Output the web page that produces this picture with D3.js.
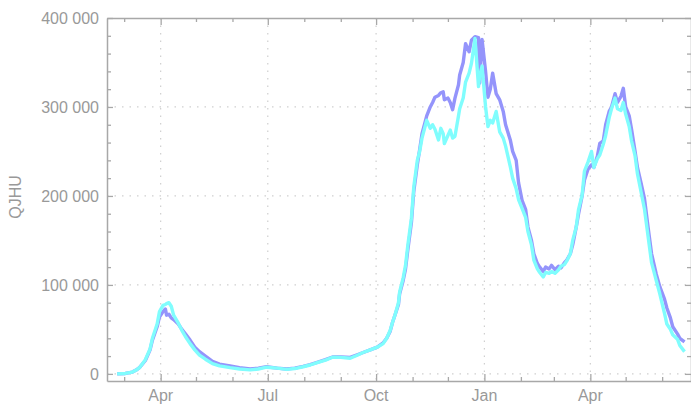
<!DOCTYPE html>
<html><head><meta charset="utf-8">
<script src="https://cdn.jsdelivr.net/npm/d3@7"></script>
<style>
html,body{margin:0;padding:0;background:#fff;}
svg{display:block;font-family:"Liberation Sans",Arial,sans-serif;}
</style></head>
<body><svg id="c" width="691" height="413"></svg>
<script>
const dates = [
 "2020-02-24","2020-03-02","2020-03-08","2020-03-12","2020-03-14","2020-03-19","2020-03-23","2020-03-25","2020-03-29","2020-03-31",
 "2020-04-03","2020-04-05","2020-04-06","2020-04-08","2020-04-10","2020-04-12","2020-04-16","2020-04-19","2020-04-22","2020-04-26",
 "2020-04-30","2020-05-04","2020-05-09","2020-05-15","2020-05-21","2020-05-30","2020-06-07","2020-06-16","2020-06-23","2020-06-30",
 "2020-07-09","2020-07-17","2020-07-24","2020-07-31","2020-08-06","2020-08-12","2020-08-19","2020-08-25","2020-09-01","2020-09-09",
 "2020-09-15","2020-09-20","2020-09-26","2020-10-02","2020-10-07","2020-10-10","2020-10-13","2020-10-15","2020-10-17","2020-10-20",
 "2020-10-21","2020-10-24","2020-10-26","2020-10-28","2020-10-31","2020-11-02","2020-11-05","2020-11-07",
 "2020-11-09","2020-11-12","2020-11-13","2020-11-16","2020-11-18","2020-11-20","2020-11-23","2020-11-25","2020-11-27","2020-11-28","2020-12-01","2020-12-03",
 "2020-12-05","2020-12-07","2020-12-10","2020-12-11","2020-12-14","2020-12-16","2020-12-19","2020-12-21","2020-12-24","2020-12-27","2020-12-28","2020-12-30",
 "2021-01-02","2021-01-04","2021-01-06","2021-01-08","2021-01-11","2021-01-14","2021-01-17","2021-01-19","2021-01-23","2021-01-25","2021-01-28","2021-01-30",
 "2021-02-02","2021-02-05","2021-02-07","2021-02-10","2021-02-12","2021-02-15","2021-02-17","2021-02-20","2021-02-22","2021-02-25","2021-02-27","2021-03-02",
 "2021-03-05","2021-03-07","2021-03-10","2021-03-12","2021-03-15","2021-03-17","2021-03-20","2021-03-22","2021-03-25","2021-03-27","2021-03-30","2021-04-02",
 "2021-04-04","2021-04-07","2021-04-09","2021-04-12","2021-04-14","2021-04-17","2021-04-19","2021-04-22","2021-04-24","2021-04-27","2021-04-29","2021-05-01",
 "2021-05-04","2021-05-06","2021-05-09","2021-05-11","2021-05-14","2021-05-17","2021-05-20","2021-05-23","2021-05-27","2021-05-30",
 "2021-06-03","2021-06-05","2021-06-08","2021-06-10","2021-06-14","2021-06-16","2021-06-20"
];
const seriesA = [
 0,500,2000,5000,7000,15000,27000,38000,53000,64000,
 70000,73000,66000,67000,63000,61000,56000,50000,45000,38000,
 30000,25000,20000,14000,11000,9000,7000,5500,6500,8000,
 6500,5500,6500,8500,10500,13000,16000,19000,19000,18500,
 21500,24000,27000,30000,35000,40000,48000,58000,66000,78000,
 90000,105000,118000,140000,170000,205000,235000,252000,
 270000,285000,290000,300000,305000,311000,313000,316000,317000,308000,310000,305000,
 297000,310000,325000,336000,350000,371000,362000,375000,379000,378000,327000,376000,
 340000,311000,320000,338000,315000,308000,295000,280000,263000,250000,240000,215000,
 195000,185000,165000,150000,135000,124000,120000,115000,120000,118000,122000,117000,
 121000,119000,125000,128000,135000,145000,165000,180000,200000,218000,230000,235000,
 232000,245000,259000,262000,280000,295000,300000,315000,305000,312000,321000,300000,
 290000,275000,250000,232000,215000,197000,165000,135000,112000,98000,
 84000,74000,63000,53000,45000,40000,36000
];
const seriesB = [
 0,500,2000,5000,7000,16000,28000,40000,56000,70000,
 77000,78000,79000,80000,76000,66000,57000,49000,42000,34000,
 27000,21000,16500,11500,9000,7000,5500,4500,5500,7500,
 6500,5000,6000,8000,10000,12700,15500,18700,18500,17600,
 21000,24000,27000,30000,34000,40000,49000,58000,66000,80000,
 92000,108000,122000,145000,175000,210000,240000,250000,
 265000,280000,285000,276000,280000,275000,263000,276000,270000,259000,268000,274000,
 265000,267000,290000,298000,310000,328000,338000,349000,377000,323000,335000,346000,
 300000,278000,285000,282000,295000,272000,265000,256000,233000,220000,208000,196000,
 186000,176000,160000,145000,128000,118000,114000,109000,114000,113000,115000,113000,
 117000,121000,123000,127000,135000,150000,165000,185000,201000,228000,238000,250000,
 232000,242000,246000,258000,268000,288000,298000,310000,298000,296000,305000,292000,
 278000,262000,245000,225000,205000,185000,155000,125000,105000,90000,
 68000,56000,50000,44000,39000,32000,25000
];
const yTickValues = [0,100000,200000,300000,400000];
const xTickDates = ["2020-04-01","2020-07-01","2020-10-01","2021-01-01","2021-04-01"];
const xTickLabels = ["Apr","Jul","Oct","Jan","Apr"];
const yLabel = "QJHU";

const svg = d3.select("#c");
const L = 107, R = 691, T = 18, B = 381;
const parse = d3.utcParse("%Y-%m-%d");
const x = d3.scaleUtc()
  .domain([new Date(Date.UTC(2020,1,15,10)), new Date(Date.UTC(2021,5,25,12))])
  .range([L, R]);
const y = d3.scaleLinear().domain([-8000, 400000]).range([B, T]);

const axisCol = "#a8a8a8", textCol = "#999";
const fmt = v => d3.format(",")(v).replace(/,/g, " ");

// grid
const g = svg.append("g");
g.selectAll("line.gy").data(yTickValues.slice(0,4)).join("line")
  .attr("x1", L).attr("x2", R).attr("y1", d => y(d)).attr("y2", d => y(d))
  .attr("stroke", "#cfcfcf").attr("stroke-width", 1.2).attr("stroke-dasharray", "1.5,6");
g.selectAll("line.gx").data(xTickDates).join("line")
  .attr("x1", d => x(parse(d))).attr("x2", d => x(parse(d))).attr("y1", T).attr("y2", B)
  .attr("stroke", "#cfcfcf").attr("stroke-width", 1.2).attr("stroke-dasharray", "1.5,6");

// axes
const months = d3.utcMonth.range(x.domain()[0], x.domain()[1]);
const majorX = xTickDates.map(parse);
const minorX = months.filter(m => !majorX.some(d => +d === +m));
const minorY = d3.range(0, 400001, 20000).filter(v => v % 100000 !== 0);

function styleAxis(sel){
  sel.select(".domain").attr("stroke", axisCol).attr("stroke-width", 1.5);
  sel.selectAll(".tick line").attr("stroke", axisCol).attr("stroke-width", 1.3);
  sel.selectAll(".tick text").remove();
}
// bottom
svg.append("g").attr("transform", `translate(0,${B})`)
  .call(d3.axisBottom(x).tickValues(majorX).tickSizeInner(-7).tickSizeOuter(0).tickFormat(""))
  .call(styleAxis);
svg.append("g").attr("transform", `translate(0,${B})`)
  .call(d3.axisBottom(x).tickValues(minorX).tickSizeInner(-4).tickSizeOuter(0).tickFormat(""))
  .call(styleAxis).select(".domain").remove();
// top
svg.append("g").attr("transform", `translate(0,${T})`)
  .call(d3.axisTop(x).tickValues(majorX).tickSizeInner(-7).tickSizeOuter(0).tickFormat(""))
  .call(styleAxis);
svg.append("g").attr("transform", `translate(0,${T})`)
  .call(d3.axisTop(x).tickValues(minorX).tickSizeInner(-4).tickSizeOuter(0).tickFormat(""))
  .call(styleAxis).select(".domain").remove();
// left
svg.append("g").attr("transform", `translate(${L},0)`)
  .call(d3.axisLeft(y).tickValues(yTickValues).tickSizeInner(-6).tickSizeOuter(0).tickFormat(""))
  .call(styleAxis);
svg.append("g").attr("transform", `translate(${L},0)`)
  .call(d3.axisLeft(y).tickValues(minorY).tickSizeInner(-4).tickSizeOuter(0).tickFormat(""))
  .call(styleAxis).select(".domain").remove();
// right
svg.append("g").attr("transform", `translate(${R},0)`)
  .call(d3.axisRight(y).tickValues(yTickValues).tickSizeInner(-6).tickSizeOuter(0).tickFormat(""))
  .call(styleAxis);
svg.append("g").attr("transform", `translate(${R},0)`)
  .call(d3.axisRight(y).tickValues(minorY).tickSizeInner(-4).tickSizeOuter(0).tickFormat(""))
  .call(styleAxis).select(".domain").remove();

// labels
svg.selectAll("text.yl").data(yTickValues).join("text")
  .attr("x", 99).attr("y", d => y(d)).attr("dy", "0.36em")
  .attr("text-anchor", "end").attr("font-size", 16).attr("fill", textCol).text(fmt);
svg.selectAll("text.xl").data(xTickDates).join("text")
  .attr("x", (d) => x(parse(d))).attr("y", 401)
  .attr("text-anchor", "middle").attr("font-size", 16).attr("fill", textCol)
  .text((d, i) => xTickLabels[i]);
svg.append("text").attr("transform", "translate(21,197) rotate(-90)")
  .attr("text-anchor", "middle").attr("font-size", 16).attr("fill", textCol).text(yLabel);

// lines
const line = d3.line().x(d => x(d[0])).y(d => y(d[1]));
const pts = arr => dates.map((d, i) => [parse(d), arr[i]]);
svg.append("path").attr("d", line(pts(seriesA))).attr("fill", "none")
  .attr("stroke", "#9494fb").attr("stroke-width", 3.4).attr("stroke-linejoin", "round");
svg.append("path").attr("d", line(pts(seriesB))).attr("fill", "none")
  .attr("stroke", "#80fdfd").attr("stroke-width", 3.4).attr("stroke-linejoin", "round");
</script></body></html>
